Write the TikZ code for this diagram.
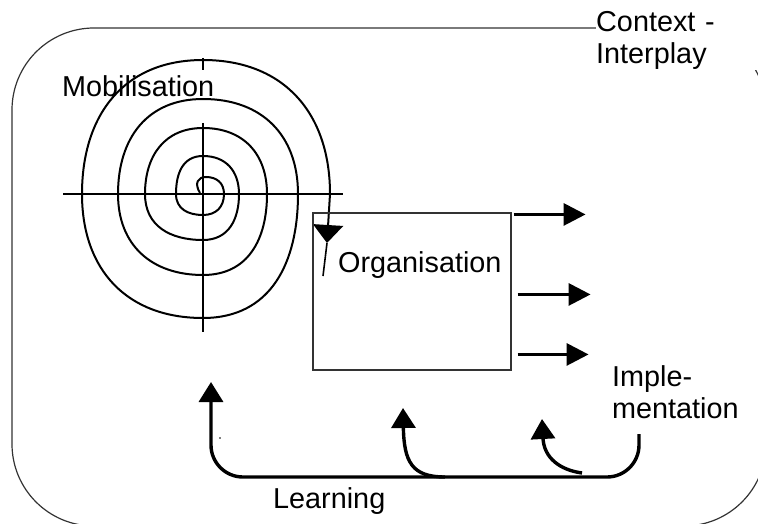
\documentclass[tikz,border=0pt]{standalone}
\usepackage{fontspec}
\setmainfont{Liberation Sans}
\usetikzlibrary{arrows.meta, calc}

\begin{document}
\begin{tikzpicture}[
  x=1pt, y=-1pt,
  every node/.style={font=\fontsize{28.8}{32.5}\selectfont, inner sep=0pt},
  outerframe/.style={draw=black!80, line width=1.2pt, rounded corners=82pt},
  orgbox/.style={draw=black!80, line width=1.1pt, minimum width=198pt, minimum height=157pt},
  spiralline/.style={line width=2pt, looseness=1.12},
  crosshair/.style={line width=1.4pt},
  outarrow/.style={line width=3.2pt, -{Triangle[length=22pt, width=22pt]}},
  feedback/.style={line width=3.4pt, -{Triangle[length=20pt, width=24pt]}}
]
\useasboundingbox (0,0) rectangle (758,524);
\clip (0,0) rectangle (758,524);

% Context frame
\draw[outerframe] (12,28) rectangle (766,526);
\node[fill=white, text width=172pt, align=left, anchor=north west] (ctx) at (596,11) {Context -\\Interplay};

% Mobilisation spiral (right/bottom/left/top reach of each turn)
% out/in angles are taken on the page, so y points up there
\node[anchor=base west] (mob) at (62,97) {Mobilisation};
\draw[crosshair] (63,194) -- (343,194);
\draw[crosshair] (203,58) -- (203,70);
\draw[crosshair] (203,123) -- (203,332);
\draw[spiralline, -{Triangle[length=18pt, width=30pt]}]
  (200,193) .. controls (194,183) and (198,177) .. (206,177)
  \foreach \R/\B/\L/\T in {224/215/176/156, 239/240/145/128, 267/275/118/99, 298/318/82/60} {
    to[out=0, in=90] (\R,194) to[out=270, in=0] (203,\B)
    to[out=180, in=270] (\L,194) to[out=90, in=180] (203,\T)
  }
  to[out=0, in=90] (330,194) -- (327,243);
\draw[line width=1.6pt] (327,243) -- (323,276);

% Organisation
\node[orgbox] (org) at (412,291.5) {};
\node[anchor=base west] (orgtext) at (338,272) {Organisation};

% Implementation arrows
\draw[outarrow] ($(org.north east)+(2,2)$) -- ($(org.north east)+(74,2)$);
\draw[outarrow] ($(org.north east)+(6,82)$) -- ($(org.north east)+(79,82)$);
\draw[outarrow] ($(org.north east)+(6,142)$) -- ($(org.north east)+(77,142)$);
\node[align=left, anchor=north west] (impl) at (612,365) {Imple-\\mentation};

% Learning loop
\coordinate (implfoot) at (639,434);
\coordinate (mobfoot) at (211,382);
\coordinate (orgfoot) at (403,408);
\coordinate (implback) at (542,419);
\draw[feedback, rounded corners=32pt] (implfoot) -- (639,477) -- (211,477) -- (mobfoot);
\draw[feedback] (445,477) .. controls (412,477) and (404,462) .. (orgfoot);
\draw[feedback] (582,473) .. controls (560,470) and (544,458) .. (implback);
\node[anchor=base west] (learn) at (273,508) {Learning};
\fill (220,438) circle (0.9pt);

\end{tikzpicture}
\end{document}
